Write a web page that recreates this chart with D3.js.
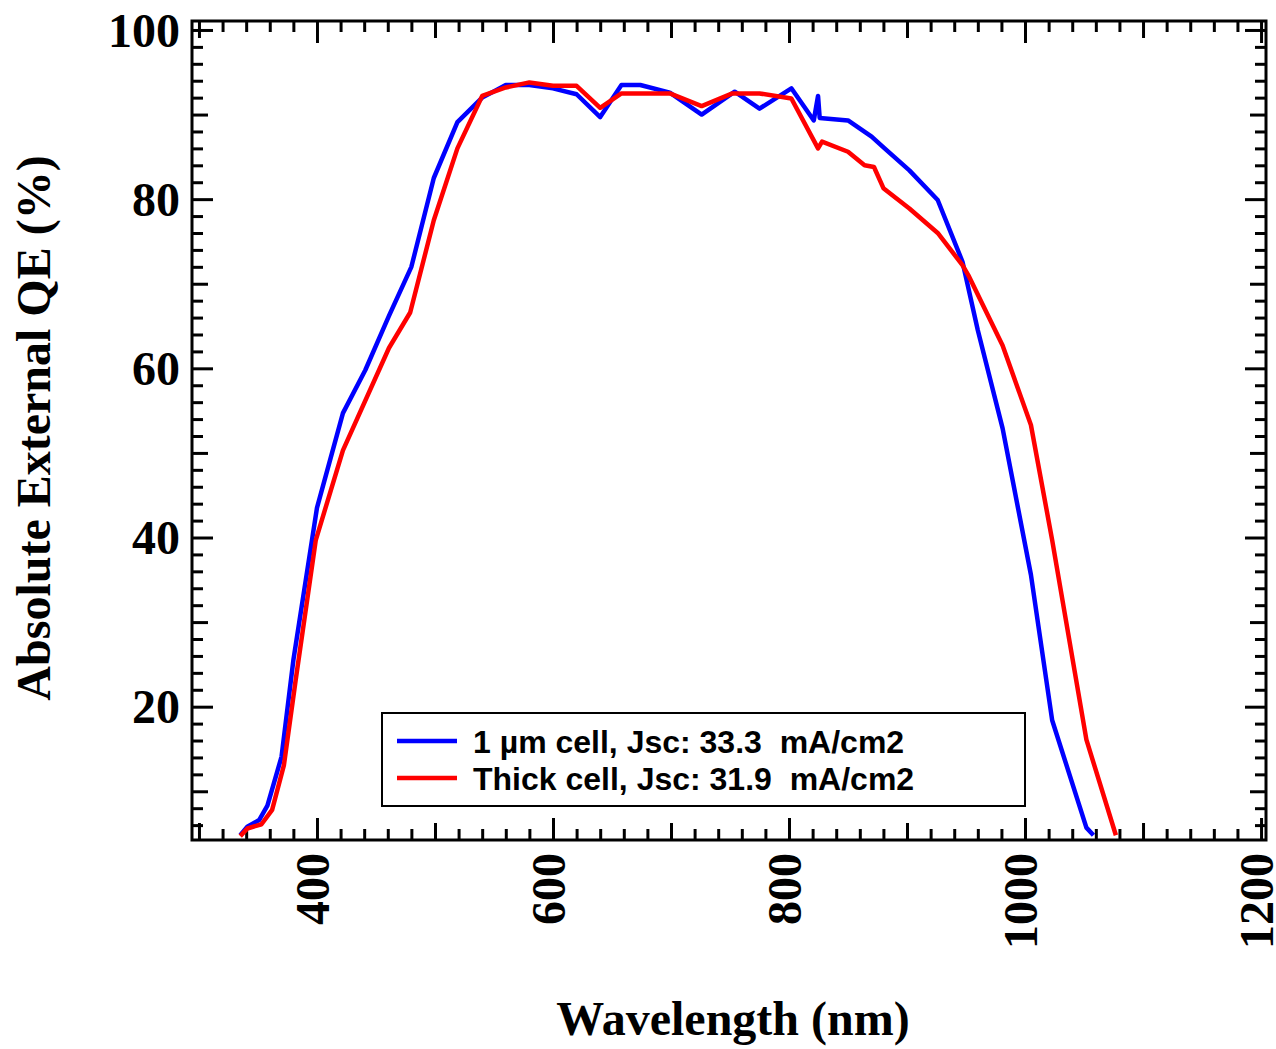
<!DOCTYPE html>
<html>
<head>
<meta charset="utf-8">
<script src="https://cdn.jsdelivr.net/npm/d3@7"></script>
<style>
  body { margin: 0; background: #fff; }
  svg { display: block; }
</style>
</head>
<body>
<script>
var outerWidth = 1276;
var outerHeight = 1049;

// 1 um cell
var wlThin = [335, 341, 351, 358, 370, 380, 400, 422, 441, 461, 480, 499, 519, 540, 560, 580,
  600, 620, 640, 658, 674, 699, 726, 754, 775, 802, 821, 824.6, 826, 850, 870, 881, 902, 926,
  947, 960, 981, 1005, 1023, 1052, 1058];
var qeThin = [4.8, 5.8, 6.6, 8.3, 14.1, 25.5, 43.5, 54.7, 59.8, 66.2, 72, 82.5, 89.1, 92.0, 93.5, 93.5,
  93.1, 92.4, 89.7, 93.5, 93.5, 92.6, 90.0, 92.7, 90.7, 93.1, 89.3, 92.2, 89.6, 89.3, 87.4, 86.0, 83.4, 79.9,
  72.6, 64.5, 52.9, 35.6, 18.4, 5.7, 4.8];

// thick cell
var wlThick = [335, 341, 353, 362, 372, 382, 399, 422, 461, 479, 499, 519, 540, 560, 580, 600,
  620, 640, 658, 699, 726, 752, 775, 802, 824.6, 828, 850, 864, 872, 880, 902, 926, 947, 952,
  981, 1005, 1023, 1052, 1077];
var qeThick = [4.7, 5.6, 6.1, 7.8, 13.1, 23.2, 39.7, 50.3, 62.4, 66.6, 77.5, 86.0, 92.2, 93.2, 93.8, 93.4,
  93.4, 90.8, 92.5, 92.5, 91.0, 92.5, 92.5, 91.9, 86.0, 86.8, 85.6, 84.0, 83.8, 81.3, 78.9, 76.0, 72.2, 71.0,
  62.7, 53.3, 39.7, 16.1, 4.8];

var xTickLabels = [400, 600, 800, 1000, 1200];
var yTickLabels = [20, 40, 60, 80, 100];

var legendLabels = ['1 \u00b5m cell, Jsc: 33.3\u00a0 mA/cm2', 'Thick cell, Jsc: 31.9\u00a0 mA/cm2'];
var colors = ['#0000ff', '#ff0000'];

var margin = {left: 192, top: 21, right: 10, bottom: 209};

var x = d3.scaleLinear().domain([294.1, 1204.2]).range([margin.left, outerWidth - margin.right]);
var y = d3.scaleLinear().domain([4.24, 101.06]).range([outerHeight - margin.bottom, margin.top]);

var svg = d3.select('body').append('svg')
  .attr('width', outerWidth)
  .attr('height', outerHeight);

var x0 = x.range()[0], x1 = x.range()[1];
var y0 = y.range()[0], y1 = y.range()[1];

// tick sets
var xMinor = d3.range(300, 1201, 20).filter(function(v){ return v % 100 !== 0; });
var xMedium = d3.range(300, 1201, 200);
var yMinor = d3.range(6, 101, 2).filter(function(v){ return v % 10 !== 0; });
var yMedium = d3.range(10, 101, 20);

function tickAxes(g, axisFn, scale, values, size){
  g.append('g')
    .call(axisFn(scale).tickValues(values).tickSize(size).tickFormat(''))
    .call(function(s){ s.select('.domain').remove(); })
    .selectAll('line').attr('stroke', '#000').attr('stroke-width', 3);
}

var ticks = svg.append('g').attr('class', 'ticks');
var bottomG = ticks.append('g').attr('transform', 'translate(0,' + y0 + ')');
var topG = ticks.append('g').attr('transform', 'translate(0,' + y1 + ')');
var leftG = ticks.append('g').attr('transform', 'translate(' + x0 + ',0)');
var rightG = ticks.append('g').attr('transform', 'translate(' + x1 + ',0)');

[[xMinor, 11], [xMedium, 17], [xTickLabels, 22]].forEach(function(t){
  tickAxes(bottomG, d3.axisBottom, x, t[0], -t[1]);
  tickAxes(topG, d3.axisTop, x, t[0], -t[1]);
});
[[yMinor, 11], [yMedium, 16], [yTickLabels, 21]].forEach(function(t){
  tickAxes(leftG, d3.axisLeft, y, t[0], -t[1]);
  tickAxes(rightG, d3.axisRight, y, t[0], -t[1]);
});

// frame
svg.append('rect')
  .attr('x', x0).attr('y', y1)
  .attr('width', x1 - x0).attr('height', y0 - y1)
  .attr('fill', 'none')
  .attr('stroke', '#000')
  .attr('stroke-width', 3);

// curves
var line = d3.line()
  .x(function(d){ return x(d[0]); })
  .y(function(d){ return y(d[1]); });

var series = [d3.zip(wlThin, qeThin), d3.zip(wlThick, qeThick)];

svg.selectAll('.curve')
  .data(series)
  .enter()
  .append('path')
  .attr('class', 'curve')
  .attr('d', line)
  .attr('fill', 'none')
  .attr('stroke', function(d, i){ return colors[i]; })
  .attr('stroke-width', 4.5)
  .attr('stroke-linejoin', 'round');

// tick labels
var serif = '"Liberation Serif", "Times New Roman", serif';

svg.selectAll('.ylab')
  .data(yTickLabels)
  .enter()
  .append('text')
  .attr('class', 'ylab')
  .attr('x', 180)
  .attr('y', function(d){ return y(d); })
  .attr('dy', '0.35em')
  .attr('text-anchor', 'end')
  .style('font-family', serif)
  .style('font-weight', 'bold')
  .style('font-size', '48px')
  .text(function(d){ return d; });

svg.selectAll('.xlab')
  .data(xTickLabels)
  .enter()
  .append('text')
  .attr('class', 'xlab')
  .attr('transform', function(d){ return 'translate(' + x(d) + ',853) rotate(-90)'; })
  .attr('dy', '0.24em')
  .attr('text-anchor', 'end')
  .style('font-family', serif)
  .style('font-weight', 'bold')
  .style('font-size', '48px')
  .text(function(d){ return d; });

// axis titles
svg.append('text')
  .attr('x', 733)
  .attr('y', 1035)
  .attr('text-anchor', 'middle')
  .style('font-family', serif)
  .style('font-weight', 'bold')
  .style('font-size', '48px')
  .text('Wavelength (nm)');

svg.append('text')
  .attr('transform', 'translate(50,428) rotate(-90)')
  .attr('text-anchor', 'middle')
  .style('font-family', serif)
  .style('font-weight', 'bold')
  .style('font-size', '48px')
  .text('Absolute External QE (%)');

// legend
var legend = svg.append('g').attr('class', 'legend');

legend.append('rect')
  .attr('x', 382).attr('y', 713)
  .attr('width', 643).attr('height', 93)
  .attr('fill', '#fff')
  .attr('stroke', '#000')
  .attr('stroke-width', 2);

var item = legend.selectAll('.item')
  .data(legendLabels)
  .enter()
  .append('g')
  .attr('class', 'item')
  .attr('transform', function(d, i){ return 'translate(0,' + (741 + i * 37) + ')'; });

item.append('line')
  .attr('x1', 397).attr('x2', 457)
  .attr('stroke', function(d, i){ return colors[i]; })
  .attr('stroke-width', 4.5);

item.append('text')
  .attr('x', 473)
  .attr('dy', '0.36em')
  .style('font-family', '"Liberation Sans", Arial, sans-serif')
  .style('font-weight', 'bold')
  .style('font-size', '32px')
  .text(function(d){ return d; });
</script>
</body>
</html>
